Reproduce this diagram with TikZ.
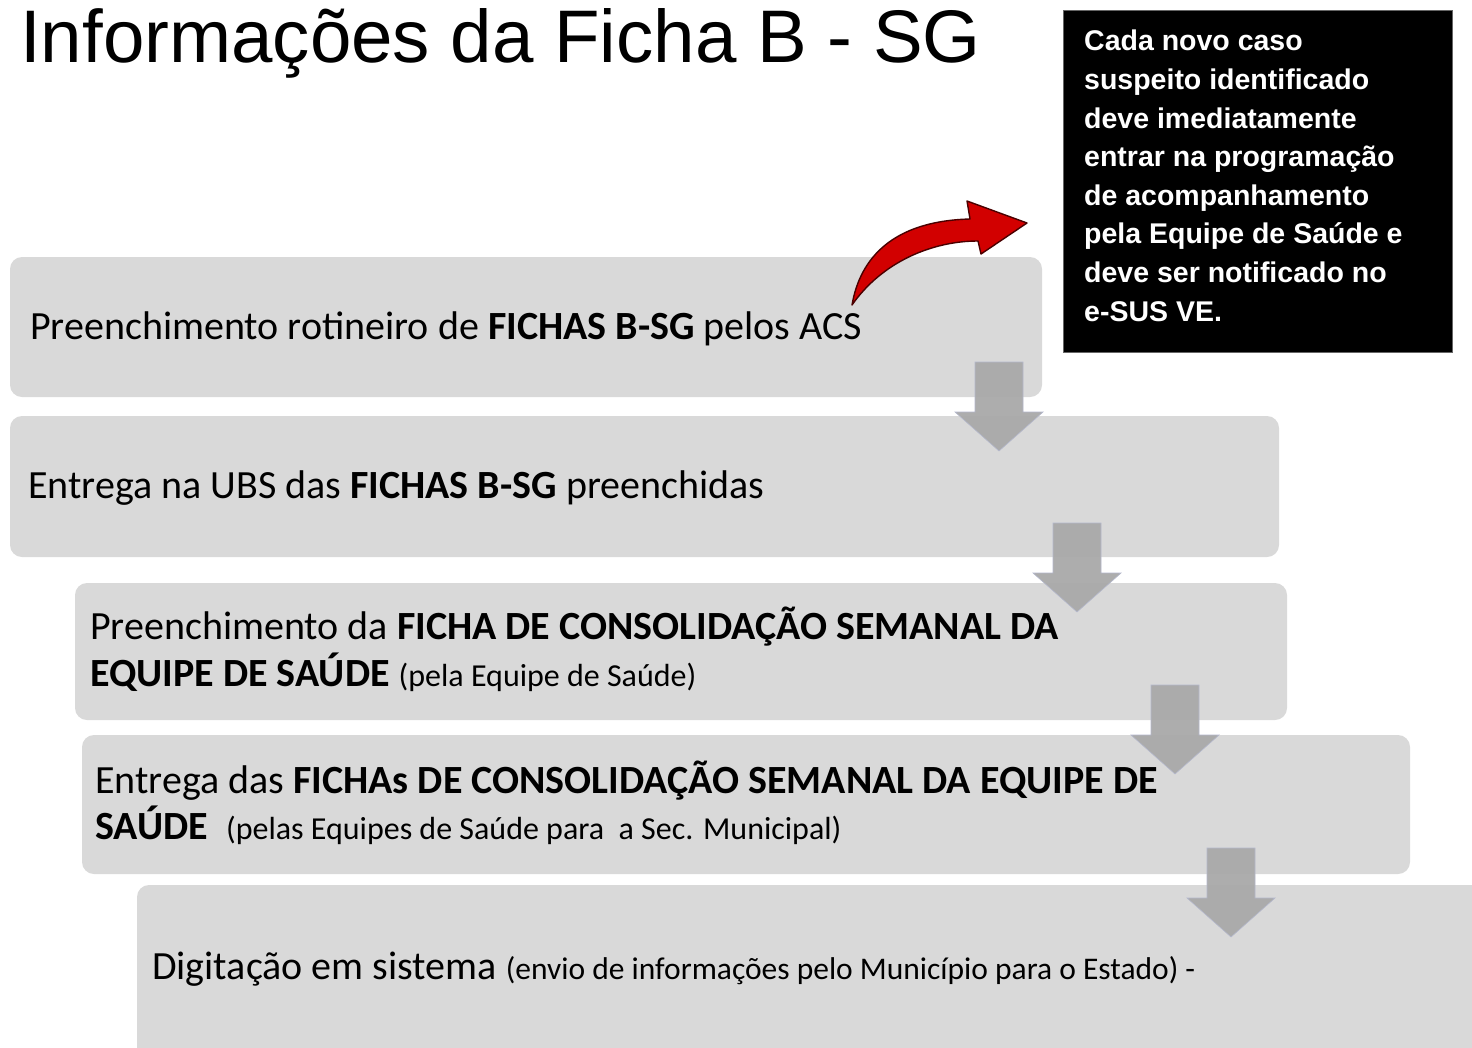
\documentclass[tikz,border=0pt]{standalone}
\usepackage{fontspec}
\setmainfont{Liberation Sans}
\newfontfamily\calfont{Carlito}
\definecolor{boxgrey}{HTML}{D9D9D9}
\definecolor{arrgrey}{HTML}{A9A9A9}
\definecolor{arredge}{HTML}{B4B8CC}
\definecolor{redfill}{HTML}{D20000}
\definecolor{rededge}{HTML}{4A0000}
\begin{document}
\begin{tikzpicture}[x=1pt,y=-1pt,
  stepbox/.style={fill=boxgrey, draw=none, rounded corners=12pt},
  downarr/.style={fill=arrgrey, draw=arredge, line width=0.6pt, fill opacity=0.95},
  bigtxt/.style={anchor=base west, inner sep=0pt, font=\calfont\fontsize{40}{48}\selectfont, text=black},
  notebox/.style={fill=black, draw=black!60, line width=0.8pt},
  notetxt/.style={anchor=north west, inner sep=0pt, text=white, align=left, font=\bfseries\fontsize{28.5}{38.6}\selectfont},
  pics/darrow/.style={code={
    \path[downarr] (-24,0) -- (24,0) -- (24,50) -- (44,50) -- (0,89) -- (-44,50) -- (-24,50) -- cycle;}}
]
\useasboundingbox (0,0) rectangle (1472,1047);
\clip (0,0) rectangle (1472,1047);
\fill[white] (0,0) rectangle (1472,1047);

% title
\node[anchor=base west, inner sep=0pt, font=\fontsize{74.5}{80}\selectfont] (title) at (20,62) {Informações da Ficha B - SG};

% note box
\draw[notebox] (1063,10) rectangle (1452,352);
\node[notetxt] (note) at (1084,30) {Cada novo caso\\suspeito identificado\\deve imediatamente\\entrar na programação\\de acompanhamento\\pela Equipe de Saúde e\\deve ser notificado no\\e-SUS VE.};

% step boxes
\path[stepbox] (10,257) rectangle (1042,397);
\path[stepbox] (10,416) rectangle (1279,557);
\path[stepbox] (75,583) rectangle (1287,720);
\path[stepbox] (82,735) rectangle (1410,874);
\path[stepbox] (137,885) rectangle (1500,1080);

% texts
\node[bigtxt] (t1) at (30,339) {Preenchimento rotineiro de \textbf{FICHAS B-SG} pelos ACS};
\node[bigtxt] (t2) at (28,498) {Entrega na UBS das \textbf{FICHAS B-SG} preenchidas};
\node[bigtxt] (t3a) at (90,639) {Preenchimento da \textbf{FICHA DE CONSOLIDAÇÃO SEMANAL DA}};
\node[bigtxt] (t3b) at (90,686) {\textbf{EQUIPE DE SAÚDE} {\fontsize{32}{36}\selectfont(pela Equipe de Saúde)}};
\node[bigtxt] (t4a) at (95,793) {Entrega das \textbf{FICHAs DE CONSOLIDAÇÃO SEMANAL DA EQUIPE DE}};
\node[bigtxt] (t4b) at (95,839) {\textbf{SAÚDE}\ \ {\fontsize{32}{36}\selectfont(pelas Equipes de Saúde para\ \ a Sec. Municipal)}};
\node[bigtxt] (t5) at (152,979) {Digitação em sistema {\fontsize{31.5}{36}\selectfont(envio de informações pelo Município para o Estado) -}};

% grey down arrows
\pic at (999,362) {darrow};
\pic at (1077,523) {darrow};
\pic at (1175,685) {darrow};
\pic at (1231,848) {darrow};

% red curved arrow
\coordinate (rs) at (852,305);
\coordinate (rt) at (1027,223);
\filldraw[fill=redfill, draw=rededge, line width=1.4pt, line join=round]
  (rs) .. controls (860,258) and (893,221) .. (970,219)
  -- (967,201) -- (rt) -- (981,254) -- (978,241)
  .. controls (932,241) and (882,262) .. (rs) -- cycle;
\end{tikzpicture}
\end{document}
